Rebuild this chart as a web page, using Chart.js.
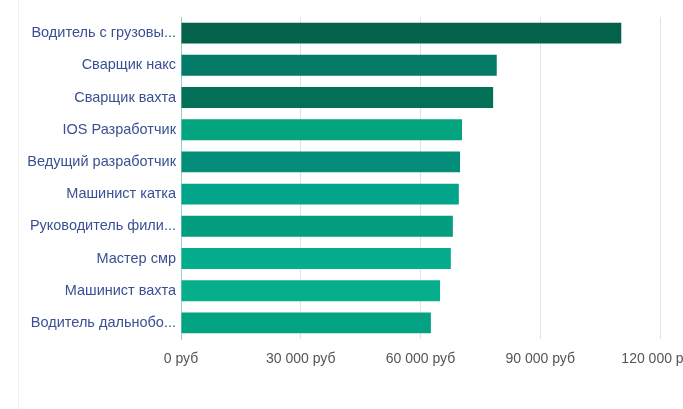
<!DOCTYPE html>
<html lang="ru">
<head>
    <meta charset="UTF-8">
    <title>Зарплаты по вакансиям</title>
    <script src="https://cdn.jsdelivr.net/npm/chart.js"></script>
    <style>
        html, body { margin: 0; padding: 0; background: #fff; overflow: hidden; }
        .wrap { position: relative; width: 683px; height: 409px; overflow: hidden; }
        .panel-edge { position: absolute; left: 18px; top: 0; bottom: 0; border-left: 1px solid #f0f0f0; }
        .box { position: absolute; left: 0; top: 0; width: 720px; height: 409px; }
    </style>
</head>
<body>
    <div class="wrap">
        <div class="panel-edge"></div>
        <div class="box"><canvas id="salaryChart"></canvas></div>
    </div>
    <script>
        // данные
        const jobs = [
            'Водитель с грузовы...',
            'Сварщик накс',
            'Сварщик вахта',
            'IOS Разработчик',
            'Ведущий разработчик',
            'Машинист катка',
            'Руководитель фили...',
            'Мастер смр',
            'Машинист вахта',
            'Водитель дальнобо...'
        ];
        const salaries = [110300, 79100, 78200, 70400, 69900, 69600, 68100, 67600, 64900, 62600];
        const barColors = ['#04614a', '#037b68', '#037158', '#04a47f', '#048e79',
                           '#03a58a', '#039d80', '#05ad8c', '#06ae8c', '#03a282'];
        const xTicks = [0, 30000, 60000, 90000, 120000];

        function rub(v) {
            return v.toString().replace(/\B(?=(\d{3})+(?!\d))/g, ' ') + ' руб';
        }

        const ctx = document.getElementById('salaryChart').getContext('2d');
        new Chart(ctx, {
            type: 'bar',
            data: {
                labels: jobs,
                datasets: [{
                    data: salaries,
                    backgroundColor: barColors,
                    categoryPercentage: 1,
                    barPercentage: 0.65
                }]
            },
            options: {
                indexAxis: 'y',
                responsive: true,
                maintainAspectRatio: false,
                animation: false,
                layout: { padding: { top: 17, right: 0, left: 0, bottom: 0 } },
                plugins: { legend: { display: false }, tooltip: { enabled: false } },
                scales: {
                    x: {
                        min: 0,
                        max: 120000,
                        afterBuildTicks: s => { s.ticks = xTicks.map(v => ({ value: v })); },
                        grid: { color: '#e2e2e2', drawTicks: false },
                        border: { display: false },
                        ticks: {
                            padding: 12,
                            color: '#555555',
                            font: { family: 'Liberation Sans, Arial', size: 14 },
                            callback: v => rub(v)
                        },
                        afterFit: s => { s.height = 70; s.paddingRight = 60; }
                    },
                    y: {
                        grid: { display: false, drawTicks: false },
                        border: { display: true, color: '#8fd6c3', width: 1 },
                        ticks: {
                            padding: 5,
                            color: '#3b4f94',
                            font: { family: 'Liberation Sans, Arial', size: 14.5 }
                        },
                        afterFit: s => { s.width = 181; }
                    }
                }
            }
        });
    </script>
</body>
</html>
